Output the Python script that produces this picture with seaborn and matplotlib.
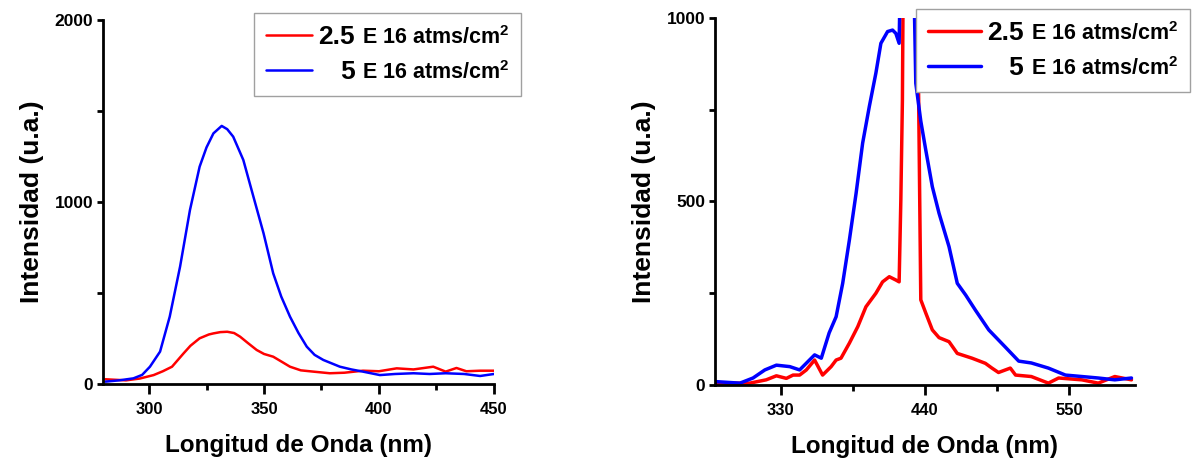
import matplotlib
matplotlib.use("Agg")
import pandas as pd
import matplotlib.pyplot as plt
import seaborn as sns
from matplotlib.offsetbox import TextArea

# ---- left panel: 280-450 nm ----
wl_left_25 = [281, 290, 296, 302, 306, 310, 315, 318, 322, 326, 328, 331, 334, 337,
              339.6, 343, 346.8, 350, 354, 358, 361.3, 366, 371.4, 378.6, 385, 393,
              400, 407.7, 415, 423.6, 429, 433.7, 438, 444, 450]
int_left_25 = [26, 20, 30, 49, 70, 95, 168, 210, 251, 272, 278, 285, 287, 280,
               260, 225, 187, 165, 150, 120, 95, 75, 68, 59, 62, 73,
               70, 86, 80, 95, 68, 88, 70, 73, 73]

wl_left_5 = [281, 287, 293.2, 297, 300.4, 304.8, 309, 313.5, 317.8, 322, 325, 328,
             331.6, 334, 336.6, 341, 345.4, 349.8, 354, 357.5, 361.3, 365, 368.6,
             372, 375.8, 383, 388, 393, 400.4, 407, 415, 422, 429, 437, 444, 450]
int_left_5 = [13, 20, 31, 50, 95, 178, 370, 645, 956, 1194, 1300, 1377,
              1418, 1400, 1359, 1231, 1029, 828, 608, 480, 370, 280, 205,
              160, 132, 95, 80, 68, 49, 55, 59, 55, 59, 55, 44, 55]

# ---- right panel: 280-600 nm ----
wl_right_25 = [281, 306.5, 319, 326.8, 334.4, 339.5, 344.5, 349.6, 355.9, 362, 368.5,
               372.3, 376, 382.4, 388.8, 395, 402.6, 407.7, 412.8, 417.8, 420.3, 421.6,
               422.8, 424.1, 433, 436.8, 440.6, 445.6, 450.7, 458.3, 464.6, 475.8, 486,
               491, 496, 505, 509, 521, 534, 541.8, 559.5, 572, 584.6, 597.3]
int_right_25 = [5, 5, 14, 25, 18, 27, 27, 41, 68, 27, 50,
                68, 73, 114, 159, 213, 250, 281, 295, 286, 281, 504,
                777, 1500, 1500, 232, 196, 150, 129, 118, 86, 73, 59,
                46, 34, 46, 27, 23, 5, 19, 14, 5, 23, 14]

wl_right_5 = [281.3, 299, 309, 318, 326.8, 337, 344.5, 352, 355.9, 361, 367, 372.3,
              377.3, 382.4, 387.5, 392.5, 397.6, 402.6, 406.4, 411.5, 415.3, 417.8,
              420.3, 421.6, 431, 433, 436.8, 440.6, 445.6, 450.7, 458.3, 464.6, 471,
              478.4, 488.6, 501, 511.4, 521, 534, 547, 559.5, 572, 584.6, 597.3]
int_right_5 = [9, 5, 19, 41, 54, 50, 41, 68, 82, 73, 142, 186,
               277, 395, 522, 659, 759, 850, 931, 963, 967, 958,
               931, 1200, 1200, 822, 719, 640, 540, 468, 377, 277, 245,
               204, 150, 104, 65, 60, 46, 27, 23, 19, 14, 19]

series_labels = ["2.5", "   5"]
unit_label = "E 16 atms/cm$^{2}$"
x_label = "Longitud de Onda (nm)"
y_label = "Intensidad (u.a.)"

sns.set_style("ticks")
plt.rcParams["font.family"] = ["Liberation Sans", "DejaVu Sans"]
plt.rcParams["font.weight"] = "bold"
for key in ["text.color", "axes.labelcolor", "xtick.color", "ytick.color",
            "xtick.labelcolor", "ytick.labelcolor"]:
    plt.rcParams[key] = "black"
plt.rcParams["mathtext.fontset"] = "custom"
plt.rcParams["mathtext.rm"] = "Liberation Sans:bold"
plt.rcParams["mathtext.it"] = "Liberation Sans:bold"
plt.rcParams["mathtext.bf"] = "Liberation Sans:bold"

fig = plt.figure(figsize=(11.94, 4.68), dpi=100)
ax1 = fig.add_axes([0.0863, 0.1795, 0.3274, 0.7778])
ax2 = fig.add_axes([0.5988, 0.1774, 0.3518, 0.7842])


def style_axes(ax, xlim, ylim, xmaj, xmin, ymaj, ymin):
    ax.set_xlim(*xlim)
    ax.set_ylim(*ylim)
    ax.set_xticks(xmaj)
    ax.set_xticks(xmin, minor=True)
    ax.set_yticks(ymaj)
    ax.set_yticks(ymin, minor=True)
    for side in ["top", "right"]:
        ax.spines[side].set_visible(False)
    for side in ["left", "bottom"]:
        ax.spines[side].set_linewidth(2.0)
        ax.spines[side].set_color("black")
    ax.tick_params(axis="x", which="major", direction="out", length=7, width=2.0,
                   labelsize=12, pad=6)
    ax.tick_params(axis="x", which="minor", direction="out", length=4.5, width=2.0)
    ax.tick_params(axis="y", which="both", direction="out", length=4, width=2.0,
                   labelsize=12.5, pad=3)
    ax.set_xlabel(x_label, fontsize=17.5, fontweight="bold", labelpad=12)
    ax.set_ylabel(y_label, fontsize=19, fontweight="bold", labelpad=8)


def legend_box(ax, anchor, hlen):
    lines = ax.get_lines()
    leg = ax.legend(lines[:2], series_labels, loc="upper left", bbox_to_anchor=anchor,
                    borderaxespad=0, fancybox=False, framealpha=1, edgecolor="#a0a0a0",
                    prop={"family": "Liberation Sans", "weight": "bold", "size": 19},
                    handlelength=hlen, handletextpad=0.25, labelspacing=0.42,
                    borderpad=0.45)
    leg.get_frame().set_linewidth(1.0)
    rows = leg._legend_handle_box.get_children()[0].get_children()
    for row in rows:
        unit = TextArea(unit_label, textprops=dict(family="Liberation Sans",
                                                   weight="bold", size=15.5))
        row.get_children().append(unit)
    leg._legend_box.set_figure(fig)
    return leg


# left panel
sns.lineplot(x=wl_left_25, y=int_left_25, color="#ff0000", linewidth=1.8, ax=ax1)
sns.lineplot(x=wl_left_5, y=int_left_5, color="#0000ff", linewidth=1.8, ax=ax1)
style_axes(ax1, (280, 450), (0, 2000), [300, 350, 400, 450], [325, 375, 425],
           [0, 1000, 2000], [500, 1500])
legend_box(ax1, (0.386, 1.019), 1.75)

# right panel
sns.lineplot(x=wl_right_25, y=int_right_25, color="#ff0000", linewidth=2.5, ax=ax2)
sns.lineplot(x=wl_right_5, y=int_right_5, color="#0000ff", linewidth=2.5, ax=ax2)
style_axes(ax2, (280, 600), (0, 1000), [330, 440, 550], [385, 495],
           [0, 500, 1000], [250, 750])
legend_box(ax2, (0.479, 1.0245), 2.0)

fig.savefig("out.png", dpi=100)
